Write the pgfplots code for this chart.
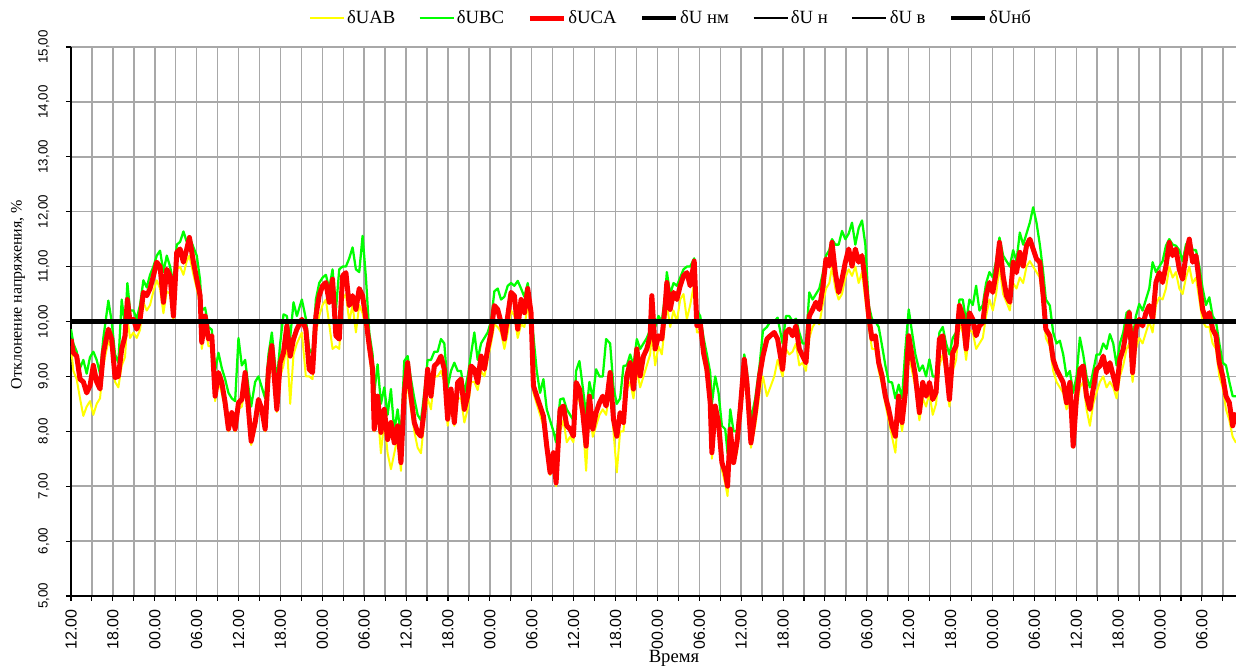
\documentclass[border=0pt]{standalone}
\usepackage{pgfplots}
\usepackage{pgfplotstable}
\pgfplotsset{compat=1.18}
\usepackage{fontspec}
\setmainfont{Liberation Serif}
\newfontfamily\arial{Liberation Sans}
\definecolor{uab}{RGB}{255,255,0}
\definecolor{ubc}{RGB}{0,255,0}
\definecolor{uca}{RGB}{255,0,0}
\definecolor{gridgray}{RGB}{168,168,168}

% X: time in units of 1/20.925 h, X=0 at 12.00 of day 1; A=dUAB, B=dUBC, C=dUCA (%)
\pgfplotstableread{
X A B C
0 9.55 9.86 9.68
7 9.10 9.60 9.43
17 8.95 9.45 9.37
27 8.60 9.15 8.95
37 8.28 9.30 8.90
47 8.45 9.05 8.70
57 8.55 9.35 8.83
67 8.30 9.45 9.20
77 8.50 9.30 8.90
87 8.60 9.05 8.77
97 9.20 9.70 9.43
112 9.65 10.38 9.86
122 9.50 10.00 9.68
132 8.90 9.40 8.98
142 8.80 9.25 9.00
152 9.20 10.40 9.50
162 9.35 9.90 9.74
169 10.05 10.70 10.40
177 9.70 10.20 10.00
187 9.80 10.20 10.04
197 9.70 10.05 9.86
207 9.85 10.30 10.04
217 10.35 10.75 10.53
227 10.20 10.62 10.47
237 10.30 10.85 10.60
247 10.55 11.00 10.83
257 10.75 11.20 11.08
267 10.60 11.29 11.00
277 10.15 10.90 10.35
287 10.55 11.20 10.95
297 10.50 11.00 10.83
307 10.00 10.70 10.10
317 10.95 11.40 11.26
327 11.00 11.45 11.32
337 10.85 11.64 11.08
347 11.10 11.45 11.32
355 11.20 11.55 11.53
367 10.85 11.35 11.08
377 10.60 11.20 10.77
387 10.30 10.75 10.47
392 9.50 10.20 9.62
402 9.90 10.25 10.10
412 9.55 9.90 9.68
422 9.55 9.85 9.74
432 8.55 9.10 8.64
442 8.90 9.43 9.07
452 8.70 9.15 8.89
462 8.40 8.95 8.52
472 8.00 8.70 8.04
482 8.25 8.60 8.34
492 8.00 8.55 8.04
502 8.40 9.70 8.52
512 8.45 9.20 8.58
522 8.85 9.30 9.07
532 8.25 8.80 8.40
540 7.75 8.45 7.82
552 8.05 8.90 8.16
562 8.40 9.00 8.58
572 8.30 8.80 8.40
582 8.00 8.60 8.04
592 8.85 9.40 9.13
602 9.30 9.80 9.56
617 8.35 8.90 8.40
627 9.00 9.60 9.25
637 9.20 10.13 9.43
647 9.60 10.10 9.92
657 8.50 9.70 9.37
667 9.40 10.35 9.68
677 9.60 10.10 9.86
692 9.80 10.40 10.04
704 9.00 10.05 9.86
714 9.00 9.50 9.13
724 8.95 9.40 9.07
734 9.80 10.40 10.10
744 10.10 10.70 10.47
754 10.30 10.80 10.65
764 10.40 10.85 10.71
774 9.95 10.60 10.35
784 9.50 10.95 10.77
794 9.55 10.20 9.74
804 9.50 10.95 9.68
814 10.40 11.00 10.83
824 10.50 11.00 10.89
834 10.00 11.15 10.29
844 10.30 11.35 10.47
854 9.80 10.95 10.22
864 10.30 10.90 10.60
874 10.15 11.56 10.47
884 9.85 10.80 10.04
894 9.40 9.80 9.56
904 8.90 9.40 9.13
909 8.00 8.70 8.04
919 8.40 9.22 8.64
929 7.60 8.50 7.98
939 8.20 8.80 8.40
949 7.60 8.30 7.85
959 7.31 8.77 8.16
969 7.60 8.00 7.79
979 7.90 8.40 8.10
989 7.28 7.90 7.43
999 8.40 9.28 8.70
1009 8.90 9.37 9.25
1019 8.40 8.95 8.64
1029 8.00 8.60 8.16
1039 7.70 8.30 7.98
1049 7.60 8.20 7.91
1059 8.20 8.70 8.40
1069 8.60 9.30 9.13
1079 8.40 9.30 8.64
1089 9.00 9.45 9.19
1099 9.00 9.45 9.25
1109 9.10 9.68 9.37
1119 8.90 9.60 9.13
1129 8.10 8.80 8.22
1139 8.50 9.10 8.77
1149 8.10 9.25 8.16
1159 8.60 9.10 8.89
1169 8.60 9.10 8.95
1179 8.16 8.70 8.40
1189 8.40 9.00 8.64
1199 8.90 9.40 9.19
1209 8.90 9.80 9.13
1219 8.75 9.30 8.89
1229 9.10 9.60 9.37
1239 9.00 9.70 9.13
1249 9.30 9.80 9.50
1259 9.60 10.00 9.80
1269 9.95 10.55 10.29
1279 9.90 10.60 10.22
1289 9.80 10.40 9.98
1299 9.50 10.45 9.68
1309 9.80 10.65 10.10
1319 10.20 10.70 10.53
1329 10.10 10.65 10.47
1339 9.70 10.74 9.86
1349 9.95 10.60 10.40
1359 9.90 10.45 10.16
1369 10.30 10.70 10.60
1379 9.90 10.20 10.16
1386 8.70 9.74 8.83
1396 8.50 9.10 8.64
1406 8.30 8.70 8.46
1416 8.10 8.95 8.28
1426 7.60 8.40 7.73
1436 7.20 8.20 7.25
1446 7.40 8.00 7.61
1454 7.00 7.80 7.06
1466 8.00 8.58 8.40
1476 8.20 8.60 8.46
1486 7.80 8.40 8.10
1496 7.90 8.30 8.04
1506 7.80 8.20 7.91
1514 8.60 9.10 8.89
1524 8.55 9.28 8.77
1534 8.20 8.80 8.34
1544 7.28 8.30 7.73
1554 8.40 8.90 8.64
1564 7.90 8.60 8.04
1574 8.10 9.13 8.34
1584 8.30 9.00 8.52
1594 8.40 9.00 8.64
1604 8.30 9.68 8.46
1616 8.80 9.60 9.07
1626 8.00 8.80 8.22
1636 7.25 8.50 7.91
1646 8.00 8.60 8.34
1656 8.00 9.19 8.16
1666 8.75 9.20 9.01
1676 8.90 9.40 9.25
1686 8.60 9.20 8.77
1696 9.10 9.68 9.50
1706 8.80 9.50 9.01
1716 9.00 9.60 9.37
1726 9.20 9.70 9.50
1736 9.40 9.85 9.74
1741 9.80 10.30 10.47
1751 9.20 9.90 9.50
1761 9.55 10.10 9.74
1771 9.40 10.00 9.68
1781 10.00 10.50 10.29
1786 10.30 10.90 10.71
1796 9.90 10.50 10.22
1806 10.20 10.70 10.53
1816 10.00 10.65 10.40
1826 10.40 10.80 10.65
1836 10.50 10.95 10.83
1846 10.04 11.00 10.89
1856 10.30 11.00 10.65
1868 10.70 11.15 11.10
1876 9.80 10.20 9.92
1886 9.80 10.10 9.98
1896 9.30 9.70 9.43
1906 9.00 9.40 9.13
1916 8.40 9.07 8.52
1921 7.50 8.50 7.61
1931 8.30 9.00 8.46
1941 8.00 8.70 8.16
1951 7.30 8.10 7.43
1961 7.05 8.04 7.25
1968 6.82 7.60 7.00
1976 7.80 8.40 8.04
1986 7.40 8.00 7.43
1996 7.60 8.00 7.79
2006 8.20 8.60 8.40
2018 9.00 9.40 9.31
2026 8.60 9.10 8.89
2038 7.70 8.20 7.79
2051 8.10 8.60 8.34
2064 8.70 9.20 9.01
2074 9.00 9.83 9.37
2086 8.64 9.90 9.68
2096 8.80 10.00 9.74
2108 9.00 10.00 9.80
2118 9.30 10.07 9.68
2133 9.00 9.60 9.13
2143 9.50 10.10 9.80
2153 9.40 10.10 9.86
2163 9.45 10.00 9.74
2173 9.60 10.05 9.92
2183 9.20 9.80 9.50
2193 9.25 9.60 9.37
2203 9.10 9.60 9.25
2213 9.70 10.53 10.10
2223 9.90 10.40 10.22
2233 10.00 10.50 10.35
2243 9.95 10.60 10.22
2253 10.30 10.86 10.60
2263 10.60 11.20 11.14
2273 10.70 11.30 11.01
2281 11.00 11.50 11.44
2291 10.60 11.40 10.89
2301 10.40 11.40 10.53
2311 10.50 11.65 10.77
2321 10.80 11.50 11.08
2331 10.95 11.60 11.32
2341 10.83 11.80 11.01
2351 11.00 11.40 11.32
2361 10.70 11.70 11.08
2371 10.90 11.84 11.20
2381 10.40 11.40 10.71
2391 9.90 10.30 10.10
2401 9.50 10.04 9.68
2411 9.50 10.00 9.74
2421 9.10 9.90 9.25
2431 8.85 9.56 9.01
2441 8.50 9.20 8.64
2451 8.20 8.90 8.40
2461 7.90 8.89 8.10
2471 7.61 8.60 7.91
2481 8.40 8.85 8.64
2491 8.00 8.60 8.16
2501 8.50 9.50 8.71
2511 9.40 10.22 9.74
2521 9.10 9.80 9.37
2531 8.80 9.40 9.01
2543 8.20 9.10 8.34
2553 8.60 9.20 8.89
2563 8.45 9.00 8.64
2573 8.70 9.31 8.89
2583 8.30 9.00 8.58
2593 8.50 9.00 8.71
2603 9.20 9.80 9.68
2613 9.40 9.90 9.74
2623 9.00 9.60 9.19
2633 8.45 9.40 8.58
2643 9.10 9.70 9.43
2653 9.30 9.80 9.56
2663 9.95 10.40 10.29
2673 9.80 10.40 10.10
2683 9.30 10.00 9.50
2693 9.85 10.40 10.16
2703 9.80 10.30 10.04
2713 9.50 10.65 9.74
2723 9.60 10.20 9.92
2733 9.70 10.30 9.98
2743 10.10 10.70 10.47
2753 10.40 10.90 10.71
2763 10.20 10.80 10.53
2773 10.50 11.10 10.89
2783 11.00 11.53 11.44
2794 10.50 11.20 10.83
2804 10.35 11.10 10.47
2814 10.20 11.00 10.35
2824 10.70 11.30 11.08
2834 10.60 11.10 10.89
2844 10.80 11.62 11.26
2854 10.70 11.40 11.01
2864 11.00 11.60 11.38
2874 11.10 11.80 11.50
2884 11.00 12.08 11.32
2894 10.90 11.80 11.14
2904 10.80 11.40 11.08
2914 10.30 10.90 10.47
2922 9.70 10.40 9.86
2934 9.55 10.29 9.74
2944 9.10 9.80 9.31
2954 8.90 9.60 9.13
2964 8.80 9.65 9.01
2974 8.70 9.40 8.89
2984 8.40 9.00 8.52
2994 8.60 9.10 8.89
3004 7.70 8.70 7.73
3014 8.40 9.00 8.64
3024 8.80 9.71 9.13
3034 8.90 9.40 9.19
3044 8.40 9.00 8.64
3054 8.10 8.80 8.40
3064 8.50 9.10 8.77
3074 8.70 9.40 9.13
3084 8.90 9.40 9.19
3094 9.00 9.60 9.37
3104 8.80 9.50 9.07
3114 8.90 9.77 9.25
3124 8.80 9.60 9.01
3134 8.60 9.20 8.77
3144 9.00 9.60 9.31
3154 9.20 9.80 9.50
3164 9.50 10.16 9.86
3172 9.60 10.20 10.16
3182 8.90 9.70 9.07
3192 9.50 10.10 9.86
3202 9.70 10.32 10.04
3212 9.60 10.20 9.92
3222 9.80 10.40 10.16
3232 10.00 10.60 10.29
3242 9.80 11.08 10.04
3252 10.30 10.90 10.71
3262 10.44 11.00 10.89
3272 10.40 11.10 10.71
3282 10.60 11.38 11.01
3292 11.00 11.50 11.44
3302 10.80 11.40 11.20
3312 10.90 11.38 11.32
3322 10.60 11.30 10.95
3332 10.50 11.10 10.77
3342 10.80 11.40 11.20
3352 11.00 11.50 11.50
3362 10.70 11.30 11.08
3372 10.80 11.30 11.20
3382 10.40 11.00 10.71
3392 10.00 10.60 10.22
3402 9.90 10.30 10.04
3412 9.90 10.44 10.16
3422 9.60 10.10 9.86
3432 9.50 10.00 9.74
3442 9.00 9.60 9.25
3452 8.80 9.25 9.01
3462 8.40 9.20 8.64
3472 8.20 8.90 8.52
3482 7.90 8.64 8.10
3492 7.79 8.64 8.34
}\datatab

\begin{document}
\begin{tikzpicture}
\begin{axis}[
  name=ax,
  scale only axis,
  width=873.75pt, height=411.75pt,
  xmin=0, xmax=3492, ymin=5, ymax=15,
  axis x line*=bottom, axis y line*=left,
  axis line style={black, line width=0.9pt},
  tick align=outside,
  major tick length=3.75pt,
  tick style={black, line width=0.8pt},
  xtick={0,62.775,...,3460},
  xticklabels={12.00,,18.00,,00.00,,06.00,,12.00,,18.00,,00.00,,06.00,,12.00,,18.00,,00.00,,06.00,,12.00,,18.00,,00.00,,06.00,,12.00,,18.00,,00.00,,06.00,,12.00,,18.00,,00.00,,06.00,,12.00,,18.00,,00.00,,06.00,},
  ytick={5,6,7,8,9,10,11,12,13,14,15},
  yticklabels={5{,}00,6{,}00,7{,}00,8{,}00,9{,}00,10{,}00,11{,}00,12{,}00,13{,}00,14{,}00,15{,}00},
  xticklabel style={font=\arial\fontsize{12}{14}\selectfont, rotate=90, anchor=east, xshift=-3pt},
  yticklabel style={font=\arial\fontsize{10}{12}\selectfont, rotate=90, anchor=south, yshift=9pt},
  grid=major,
  major grid style={gridgray, line width=1.1pt},
  xlabel={Время},
  xlabel style={font=\fontsize{14}{16}\selectfont, at={(axis description cs:0.5176,-0.113)}, anchor=center},
  ylabel={Отклонение напряжения, \%},
  ylabel style={font=\fontsize{12}{14}\selectfont, at={(axis description cs:-0.0455,0.549)}, anchor=center},
  legend columns=7,
  legend style={draw=none, fill=none, at={(axis description cs:0.515,1.0528)}, anchor=center,
    font=\fontsize{14}{16}\selectfont,
    /tikz/every even column/.append style={column sep=16pt},
    nodes={inner sep=1.5pt}},
  legend image code/.code={\draw[#1] (0pt,0pt) -- (25.5pt,0pt);},
  every axis plot/.append style={line join=round},
]
\addplot[uab, line width=1.5pt] table[x=X, y=A] {\datatab};
\addlegendentry{δUAB}
\addplot[ubc, line width=1.7pt] table[x=X, y=B] {\datatab};
\addlegendentry{δUBC}
\addplot[uca, line width=3.75pt] table[x=X, y=C] {\datatab};
\addlegendentry{δUCA}
\addlegendimage{black, line width=3.2pt}
\addlegendentry{δU нм}
\addlegendimage{black, line width=2pt}
\addlegendentry{δU н}
\addlegendimage{black, line width=2pt}
\addlegendentry{δU в}
\addplot[black, line width=3.2pt] coordinates {(0,10) (3492,10)};
\addlegendentry{δUнб}
\end{axis}
\pgfresetboundingbox
\useasboundingbox ([xshift=-53.25pt,yshift=-52.5pt]ax.south west) rectangle ([yshift=35.25pt]ax.north east);
\end{tikzpicture}
\end{document}
